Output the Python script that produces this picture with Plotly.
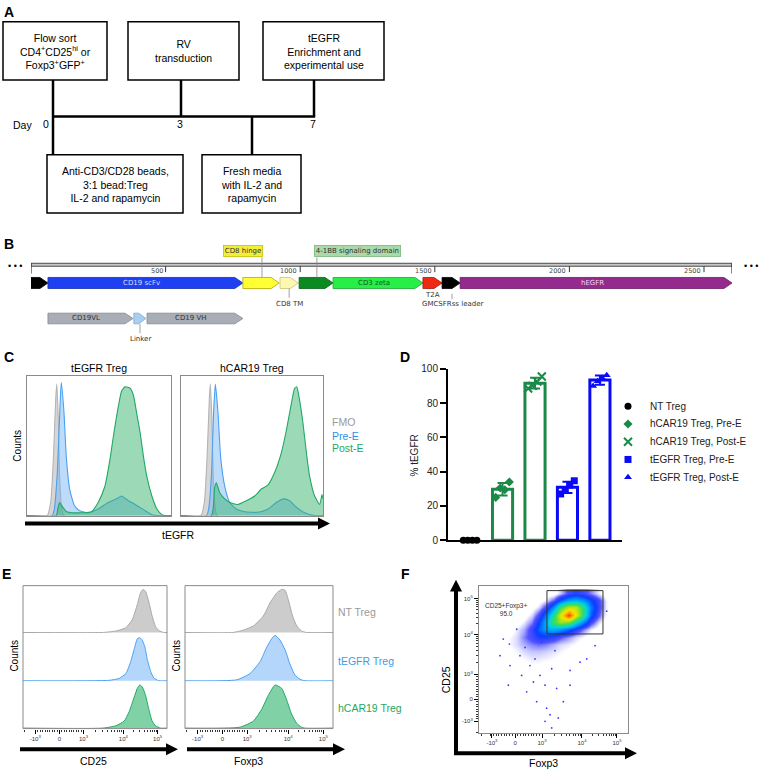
import numpy as np
import plotly.graph_objects as go

W, H = 764, 774
FONT = "Liberation Sans, Arial, sans-serif"
SG_FONT = "DejaVu Sans, Verdana, sans-serif"

# ======================= DATA =======================
# ---- Panel A : workflow ----
a_top_labels = ["Flow sort<br>CD4<sup>+</sup>CD25<sup>hi</sup> or<br>Foxp3<sup>+</sup>GFP<sup>+</sup>",
                "RV<br>transduction",
                "tEGFR<br>Enrichment and<br>experimental use"]
a_bottom_labels = ["Anti-CD3/CD28 beads,<br>3:1 bead:Treg<br>IL-2 and rapamycin",
                   "Fresh media<br>with IL-2 and<br>rapamycin"]
a_day_labels = ["0", "3", "7"]

# ---- Panel B : construct map (bp) ----
b_feat_names = ["CD8 leader", "CD19 scFv", "CD8 hinge", "CD8 TM", "4-1BB signaling domain",
                "CD3 zeta", "T2A", "GMCSFRss leader", "hEGFR"]
b_feat_start = [0, 63, 787, 925, 996, 1122, 1456, 1527, 1594]
b_feat_end = [63, 787, 922, 993, 1122, 1456, 1527, 1594, 2604]
b_sub_names = ["CD19VL", "Linker", "CD19 VH"]
b_sub_start = [63, 382, 431]
b_sub_end = [379, 427, 787]
b_ruler_ticks = [500, 1000, 1500, 2000, 2500]
b_length = 2604

# ---- Panel C : tEGFR histograms (x = % of display axis, y = normalised counts) ----
c_titles = ["tEGFR Treg", "hCAR19 Treg"]
c_series = ["FMO", "Pre-E", "Post-E"]
c_fmo_x = [0, 14, 16.5, 18.5, 20, 20.7, 21.7, 22.6, 23.8, 25.5, 100]
c_fmo_y = [0, 0, 0.1, 0.45, 0.85, 0.94, 0.7, 0.3, 0.08, 0, 0]
c_tegfr_pre_x = [0, 17.5, 19, 21, 22.8, 23.8, 25.6, 27.3, 29.6, 33, 36.6, 42.4, 49.4, 56.4, 62.2,
                 65.7, 70.4, 75.1, 82.1, 86.7, 91.4, 100]
c_tegfr_pre_y = [0, 0, 0.05, 0.3, 0.75, 0.95, 0.75, 0.42, 0.19, 0.07, 0.035, 0.02, 0.047, 0.094,
                 0.12, 0.14, 0.106, 0.08, 0.035, 0.007, 0, 0]
c_tegfr_post_x = [0, 20.3, 21.4, 22.6, 24.2, 27.3, 33, 44.8, 49.4, 54.1, 57.6, 59.9, 62.9, 65.7,
                  68.1, 71.6, 73.9, 76.2, 78.6, 80.9, 83.2, 86.7, 90.2, 93.7, 96, 100]
c_tegfr_post_y = [0, 0, 0.05, 0.094, 0.07, 0.03, 0.02, 0.028, 0.094, 0.21, 0.4, 0.56, 0.75, 0.89,
                  0.92, 0.91, 0.86, 0.73, 0.59, 0.42, 0.28, 0.14, 0.047, 0.007, 0, 0]
c_car_pre_x = [0, 18, 19.5, 21.5, 23, 24.2, 26.1, 27.9, 30.8, 34.3, 39, 44.8, 54.2, 61.3, 67.1,
               72.5, 76.5, 81.2, 87.1, 94.1, 100]
c_car_pre_y = [0, 0, 0.05, 0.3, 0.75, 0.94, 0.73, 0.42, 0.21, 0.094, 0.047, 0.028, 0.024, 0.047,
               0.094, 0.12, 0.106, 0.06, 0.02, 0, 0]
c_car_post_x = [0, 21.4, 23.7, 24.9, 27.2, 30.8, 35.4, 40.1, 46, 51.9, 56.6, 61.3, 66, 70.7,
                74.2, 77.7, 80, 81.5, 83.6, 85.9, 88.3, 90.6, 94.1, 97.7, 99.3, 100]
c_car_post_y = [0, 0, 0.2, 0.235, 0.165, 0.12, 0.09, 0.08, 0.106, 0.14, 0.19, 0.22, 0.31, 0.45,
                0.61, 0.8, 0.91, 0.92, 0.82, 0.66, 0.45, 0.28, 0.14, 0.08, 0.15, 0.12]

# ---- Panel D : % tEGFR ----
d_groups = ["NT Treg", "hCAR19 Treg, Pre-E", "hCAR19 Treg, Post-E",
            "tEGFR Treg, Pre-E", "tEGFR Treg, Post-E"]
d_values = [[0, 0, 0, 0],
            [25, 30.5, 29.5, 34],
            [88.5, 90, 92.5, 95.5],
            [27, 29.5, 32.2, 34.7],
            [90, 92.7, 94.6, 96.2]]
d_yticks = [0, 20, 40, 60, 80, 100]
d_ytitle = "% tEGFR"

# ---- Panel E : CD25 / Foxp3 histograms ----
e_rows = ["NT Treg", "tEGFR Treg", "hCAR19 Treg"]
e_markers = ["CD25", "Foxp3"]
e_cd25_x = [[0, 55, 64.5, 71.4, 76, 79.4, 81.7, 83.3, 85.1, 87.4, 89.7, 92, 94.3, 97.7, 100],
            [0, 60, 66.8, 71.4, 74.8, 77.1, 79.4, 81, 82.8, 84.7, 86.3, 88.6, 90.8, 94.3, 100],
            [0, 55.4, 64.5, 70.3, 73.7, 77.1, 79.4, 81, 82.8, 85.1, 87.4, 89.7, 92, 95.4, 100]]
e_cd25_y = [[0, 0, 0.03, 0.1, 0.28, 0.6, 0.85, 0.92, 0.88, 0.65, 0.35, 0.13, 0.04, 0, 0],
            [0, 0.01, 0.05, 0.15, 0.4, 0.65, 0.88, 0.9, 0.85, 0.7, 0.45, 0.2, 0.06, 0, 0],
            [0, 0, 0.05, 0.15, 0.35, 0.65, 0.85, 0.92, 0.88, 0.7, 0.4, 0.15, 0.05, 0, 0]]
e_foxp3_x = [[0, 32.6, 39.4, 46.2, 52.9, 57.4, 61.9, 65.3, 67.6, 69.8, 72.7, 75.5, 78.8, 82, 100],
             [0, 34.9, 43.9, 50.7, 55.2, 58.6, 60.8, 64.2, 67.6, 70.9, 74.3, 77.7, 81.1, 100],
             [0, 37.2, 46.2, 51.8, 56.3, 60.8, 65.3, 68.7, 72, 75.5, 78.8, 81, 100]]
e_foxp3_y = [[0, 0, 0.05, 0.14, 0.35, 0.63, 0.84, 0.92, 0.9, 0.7, 0.35, 0.14, 0.03, 0, 0],
             [0, 0.02, 0.15, 0.4, 0.7, 0.88, 0.95, 0.85, 0.65, 0.35, 0.12, 0.03, 0, 0],
             [0, 0.02, 0.15, 0.4, 0.7, 0.92, 0.85, 0.6, 0.3, 0.1, 0.02, 0, 0]]
e_tick_pos = [8.5, 25.3, 42, 69.7, 93.5]
tick_text = ["-10<sup>3</sup>", "0", "10<sup>3</sup>", "10<sup>4</sup>", "10<sup>5</sup>"]

# ---- Panel F : CD25 vs Foxp3 density ----
f_tick_x_pos = [8.7, 24.2, 42.3, 69.1, 92.6]
f_tick_y_pos = [7.6, 22.8, 39.8, 66.6, 91.1]
f_grid_x = [15, 20, 25, 30, 35, 40, 45, 50, 55, 60, 65, 70, 75, 80, 85, 90]
f_grid_y = [30, 35, 40, 45, 50, 55, 60, 65, 70, 75, 80, 85, 90, 95]
f_density = [
    [0, 0, 0, 0, 0, 0, 0, 0, 0, 0, 0, 0, 0, 0, 0, 0],
    [0, 0, 0, 0, 0, 0, 0, 0, 0, 0, 0, 0, 0, 0, 0, 0],
    [0, 0, 0, 0, 0.05, 0.05, 0.05, 0.05, 0, 0, 0, 0, 0, 0, 0, 0],
    [0, 0, 0, 0.1, 0.15, 0.15, 0.12, 0.1, 0, 0, 0, 0, 0, 0, 0, 0],
    [0, 0, 0.15, 0.2, 0.3, 0.3, 0.25, 0.2, 0.12, 0, 0, 0, 0, 0, 0, 0],
    [0, 0.1, 0.25, 0.4, 0.5, 0.5, 0.45, 0.35, 0.25, 0.15, 0, 0, 0, 0, 0, 0],
    [0, 0.2, 0.4, 0.6, 0.8, 0.9, 0.8, 0.6, 0.4, 0.3, 0.2, 0, 0, 0, 0, 0],
    [0, 0.2, 0.4, 0.8, 1.2, 1.6, 1.6, 1.4, 1.0, 0.7, 0.4, 0.2, 0, 0, 0, 0],
    [0, 0, 0.3, 0.6, 1.3, 2.2, 3.0, 3.2, 2.8, 2.2, 1.5, 0.8, 0.3, 0, 0, 0],
    [0, 0, 0, 0.3, 0.8, 1.8, 3.2, 5.0, 6.0, 5.5, 4.0, 2.5, 1.2, 0.4, 0, 0],
    [0, 0, 0, 0, 0.4, 1.2, 2.5, 4.5, 7.0, 9.5, 7.0, 4.5, 2.2, 1.0, 0.2, 0],
    [0, 0, 0, 0, 0, 0.4, 1.2, 2.8, 5.0, 6.5, 6.5, 4.5, 2.5, 1.3, 0.3, 0],
    [0, 0, 0, 0, 0, 0, 0.3, 1.0, 2.2, 3.0, 3.2, 2.8, 2.0, 1.2, 0.3, 0],
    [0, 0, 0, 0, 0, 0, 0, 0, 0.5, 1.2, 1.5, 1.2, 0.8, 0.3, 0, 0]]
f_sparse_x = [20.4, 25.3, 27.5, 30.9, 34.2, 37.6, 40.9, 44.3, 48.8, 52.1, 38.7, 47.7, 44.3, 48.8,
              53.2, 19.7, 32.0, 61.1, 67.8, 56.6, 16.3, 14.1, 72.3, 77.9, 85.7, 45.4, 61.1, 36.5,
              28.6, 20.8, 51.0, 42.1]
f_sparse_y = [60.2, 70.3, 52.3, 57.9, 45.6, 50.1, 38.9, 32.2, 43.4, 30.0, 21.0, 12.1, 7.6, 3.1,
              9.9, 32.2, 27.7, 42.3, 47.9, 21.0, 63.6, 52.3, 50.1, 59.1, 82.6, 16.6, 32.2, 34.4,
              38.9, 45.6, 55.7, 61.3]
f_gate = dict(x0=45.6, x1=83.2, y0=67.1, y1=96.6)
f_gate_label = "CD25+Foxp3+<br>95.0"

# ======================= HELPERS =======================
shapes, annos = [], []


def P(x):
    return x / W


def Q(y):
    return 1 - y / H


def text(t, x, y, size=10, color="black", xa="center", ya="middle", angle=0, family=FONT, **kw):
    annos.append(dict(text=t, x=P(x), y=Q(y), xref="paper", yref="paper", xanchor=xa,
                      yanchor=ya, showarrow=False, textangle=angle,
                      font=dict(size=size, color=color, family=family), **kw))


def rect(x0, y0, x1, y1, color="black", width=1.5):
    shapes.append(dict(type="rect", xref="paper", yref="paper", x0=P(x0), x1=P(x1),
                       y0=Q(y1), y1=Q(y0), line=dict(color=color, width=width),
                       fillcolor="rgba(0,0,0,0)"))


def line(x0, y0, x1, y1, color="black", width=2.5):
    shapes.append(dict(type="line", xref="paper", yref="paper", x0=P(x0), x1=P(x1),
                       y0=Q(y0), y1=Q(y1), line=dict(color=color, width=width)))


def poly(pts, color="black"):
    path = "M " + " L ".join(f"{P(a):.5f},{Q(b):.5f}" for a, b in pts) + " Z"
    shapes.append(dict(type="path", xref="paper", yref="paper", path=path,
                       fillcolor=color, line=dict(color=color, width=0)))


def harrow(x0, x1, y, lw=4, hl=12, hw=6):
    line(x0, y, x1 - hl + 1, y, width=lw)
    poly([(x1 - hl, y - hw), (x1, y), (x1 - hl, y + hw)])


def varrow(x, y0, y1, lw=4, hl=12, hw=6):
    line(x, y0, x, y1 + hl - 1, width=lw)
    poly([(x - hw, y1 + hl), (x, y1), (x + hw, y1 + hl)])


def minor_positions(major):
    # major = positions of -1e3, 0, 1e3, 1e4, 1e5 on the display axis
    m = []
    lin = major[2] - major[1]
    for v in range(-9, 10):
        if v != 0:
            m.append(major[1] + v / 10 * lin)
    for lo, hi in [(major[2], major[3]), (major[3], major[4])]:
        for k in range(2, 10):
            m.append(lo + np.log10(k) * (hi - lo))
    dec = major[4] - major[3]
    m.append(major[0] - np.log10(2) * dec)
    return [v for v in m if 0 <= v <= 100]


fig = go.Figure()
layout = dict(width=W, height=H, margin=dict(l=0, r=0, t=0, b=0), paper_bgcolor="white",
              plot_bgcolor="rgba(0,0,0,0)", showlegend=False, font=dict(family=FONT))

# ======================= PANEL LETTERS =======================
for L, x, y in [("A", 2, 7), ("B", 2, 242), ("C", 2, 357), ("D", 398, 357), ("E", 0, 577), ("F", 399, 577)]:
    text(f"<b>{L}</b>", x, y, size=14, xa="left")

# ======================= PANEL A =======================
top_box_x = [(3, 107), (128, 239), (263, 384)]
bot_box_x = [(47, 183), (202, 301)]
for (x0, x1), lab in zip(top_box_x, a_top_labels):
    rect(x0, 17, x1, 76)
    text(lab, (x0 + x1) / 2, 47, size=10.5, align="center")
for (x0, x1), lab in zip(bot_box_x, a_bottom_labels):
    rect(x0, 152, x1, 211)
    text(lab, (x0 + x1) / 2, 182, size=10.5, align="center")
line(52, 113, 315.2, 113)
line(53, 76, 53, 152)
line(181, 76, 181, 113)
line(314, 76, 314, 113)
line(252, 113, 252, 152)
text("Day", 11, 122, size=10.5, xa="left")
for lab, x in zip(a_day_labels, [46, 180, 313]):
    text(lab, x, 121, size=10.5)

# ======================= PANEL B =======================
layout["xaxis"] = dict(domain=[P(31), P(732)], range=[0, b_length], visible=False, anchor="y")
layout["yaxis"] = dict(domain=[Q(350), Q(250)], range=[-3.4, 1.6], visible=False, anchor="x")

feat_fill = ["#000000", "#1f3ff2", "#ffff33", "#fff6b0", "#0b8a22", "#28ee48", "#ee2a14", "#000000", "#952a8e"]
feat_edge = ["#000000", "#1530b0", "#b0a800", "#c8c080", "#066015", "#18a830", "#a01a08", "#000000", "#6a1a64"]
sub_fill = ["#a9adb5", "#a7cff0", "#a9adb5"]
sub_edge = ["#858991", "#80a8d0", "#858991"]
HEAD = 30


def gene_arrow(s, e, yc, h, fill, edge):
    hl = min(HEAD, (e - s) * 0.6)
    xs = [s, e - hl, e, e - hl, s, s]
    ys = [yc - h, yc - h, yc, yc + h, yc + h, yc - h]
    fig.add_trace(go.Scatter(x=xs, y=ys, fill="toself", fillcolor=fill, mode="lines",
                             line=dict(color=edge, width=0.8), xaxis="x", yaxis="y", hoverinfo="skip"))


for s, e, fc, ec in zip(b_feat_start, b_feat_end, feat_fill, feat_edge):
    gene_arrow(s, e, 0, 0.28, fc, ec)
for s, e, fc, ec in zip(b_sub_start, b_sub_end, sub_fill, sub_edge):
    gene_arrow(s, e, -1.8, 0.27, fc, ec)

# ruler
shapes.append(dict(type="rect", xref="x", yref="y", x0=0, x1=b_length, y0=0.85, y1=1.0,
                   line=dict(color="#3a3a3a", width=0.9), fillcolor="#c8c8c8"))
for xv in [0, b_length]:
    shapes.append(dict(type="line", xref="x", yref="y", x0=xv, x1=xv, y0=1.0, y1=0.48,
                       line=dict(color="#333", width=1.2)))
for t in b_ruler_ticks:
    shapes.append(dict(type="line", xref="x", yref="y", x0=t, x1=t, y0=0.85, y1=0.55,
                       line=dict(color="#333", width=1)))
    annos.append(dict(text=str(t), x=t - 4, y=0.6, xref="x", yref="y", xanchor="right",
                      yanchor="middle", showarrow=False, font=dict(size=6.5, color="#444", family=SG_FONT)))


def bann(t, x, y, size=7, color="#333", **kw):
    annos.append(dict(text=t, x=x, y=y, xref="x", yref="y", showarrow=False,
                      font=dict(size=size, color=color, family=SG_FONT), **kw))


def bline(x, y0, y1):
    shapes.append(dict(type="line", xref="x", yref="y", x0=x, x1=x, y0=y0, y1=y1,
                       line=dict(color="#888", width=0.8)))


# labels inside arrows
inside = {1: "#d8dcff", 5: "#0a5a18", 8: "#f0d8ee"}
for i, col in inside.items():
    bann(b_feat_names[i], (b_feat_start[i] + b_feat_end[i] - HEAD) / 2, 0.02, color=col)
for i in [0, 2]:
    bann(b_sub_names[i], (b_sub_start[i] + b_sub_end[i] - HEAD) / 2, -1.8, color="#333")
# labels outside arrows
bann(b_feat_names[0], -8, -0.62)
bann(b_feat_names[2], 789, 1.6, bgcolor="#f2ee3c", bordercolor="#c8c000", borderwidth=0.8, borderpad=1)
bline(858, 1.3, 0.28)
bann(b_feat_names[3], 959, -1.07)
bline(959, -0.28, -0.75)
bann(b_feat_names[4], 1211, 1.6, bgcolor="#aad9aa", bordercolor="#78b878", borderwidth=0.8, borderpad=1)
bline(1062, 1.3, 0.28)
bann(b_feat_names[6], 1493, -0.6)
bann(b_feat_names[7], 1564, -1.07)
bline(1564, -0.55, -0.82)
bann(b_sub_names[1], 405, -2.85)
bline(405, -2.07, -2.55)
text("• • •", 15, 265, size=9)
text("• • •", 751, 265, size=9)

# ======================= PANEL C =======================
c_colors_line = ["#b4b4b4", "#4aa0f0", "#22a865"]
c_colors_fill = ["rgba(200,200,200,0.75)", "rgba(110,175,245,0.45)", "rgba(45,175,105,0.48)"]
c_data = [[(c_fmo_x, c_fmo_y), (c_tegfr_pre_x, c_tegfr_pre_y), (c_tegfr_post_x, c_tegfr_post_y)],
          [(c_fmo_x, c_fmo_y), (c_car_pre_x, c_car_pre_y), (c_car_post_x, c_car_post_y)]]
c_dom = [(27, 171), (181, 323)]
for k in range(2):
    ax = k + 2
    x0, x1 = c_dom[k]
    layout[f"xaxis{ax}"] = dict(domain=[P(x0), P(x1)], range=[0, 100], anchor=f"y{ax}",
                                showline=True, mirror=True, linecolor="#8a8a8a", linewidth=1,
                                showticklabels=False, ticks="", showgrid=False, zeroline=False)
    layout[f"yaxis{ax}"] = dict(domain=[Q(518), Q(376)], range=[0, 1], anchor=f"x{ax}",
                                showline=True, mirror=True, linecolor="#8a8a8a", linewidth=1,
                                showticklabels=False, ticks="", showgrid=False, zeroline=False)
    for (xs, ys), lc, fc in zip(c_data[k], c_colors_line, c_colors_fill):
        fig.add_trace(go.Scatter(x=xs, y=ys, mode="lines", fill="tozeroy", fillcolor=fc,
                                 line=dict(color=lc, width=1.1, shape="spline", smoothing=0.5),
                                 xaxis=f"x{ax}", yaxis=f"y{ax}", hoverinfo="skip"))
    text(c_titles[k], (x0 + x1) / 2, 368, size=10.5)
text("Counts", 18, 447, size=10, angle=-90)
for lab, y, col in zip(c_series, [423, 437, 449], ["#9a9a9a", "#2f8fe8", "#22a865"]):
    text(lab, 330, y, size=10.5, color=col, xa="left")
harrow(25, 330, 526, lw=4, hl=12, hw=6)
text("tEGFR", 178, 538, size=10.5)

# ======================= PANEL D =======================
layout["xaxis4"] = dict(domain=[P(448), P(622)], range=[-0.68, 4.68], anchor="y4",
                        showline=True, linecolor="black", linewidth=2, ticks="",
                        showticklabels=False, showgrid=False, zeroline=False)
layout["yaxis4"] = dict(domain=[Q(543), Q(369)], range=[0, 100], anchor="x4",
                        showline=True, linecolor="black", linewidth=2, ticks="outside",
                        ticklen=6, tickwidth=2, tickcolor="black", tickvals=d_yticks,
                        tickfont=dict(size=10, color="#222"), showgrid=False, zeroline=False)
d_colors = ["#000000", "#1b8a48", "#1b8a48", "#0a0af5", "#0a0af5"]
d_symbols = ["circle", "diamond", "x-thin", "square", "triangle-up"]
d_sizes = [7, 7, 8, 7, 7]
offsets = np.array([-0.21, -0.07, 0.07, 0.21])
for i, vals in enumerate(d_values):
    vals = np.array(vals, dtype=float)
    m, sd = vals.mean(), vals.std(ddof=1)
    if m > 0:
        fig.add_trace(go.Bar(x=[i], y=[m], width=0.62, xaxis="x4", yaxis="y4",
                             marker=dict(color="rgba(255,255,255,0)", line=dict(color=d_colors[i], width=3)),
                             error_y=dict(type="data", array=[sd], color=d_colors[i], thickness=2, width=5),
                             hoverinfo="skip"))
for i, vals in enumerate(d_values):
    mk = dict(symbol=d_symbols[i], size=d_sizes[i], color=d_colors[i])
    if d_symbols[i] == "x-thin":
        mk["line"] = dict(color=d_colors[i], width=2)
    fig.add_trace(go.Scatter(x=i + offsets, y=vals, mode="markers", marker=mk, cliponaxis=False,
                             xaxis="x4", yaxis="y4", hoverinfo="skip"))
text(d_ytitle, 415, 457, size=10, angle=-90, color="#222")

# legend (drawn on a pixel canvas axis)
layout["xaxis12"] = dict(domain=[0, 1], range=[0, W], visible=False, anchor="y12")
layout["yaxis12"] = dict(domain=[0, 1], range=[H, 0], visible=False, anchor="x12")
leg_y = [407, 425, 443, 461, 479]
for i, g in enumerate(d_groups):
    mk = dict(symbol=d_symbols[i], size=d_sizes[i], color=d_colors[i])
    if d_symbols[i] == "x-thin":
        mk["line"] = dict(color=d_colors[i], width=2)
    fig.add_trace(go.Scatter(x=[628], y=[leg_y[i]], mode="markers", marker=mk,
                             xaxis="x12", yaxis="y12", hoverinfo="skip"))
    text(g, 648, leg_y[i], size=10, xa="left", color="#222")

# ======================= PANEL E =======================
e_line = ["#a8a8a8", "#4aa0f0", "#22a865"]
e_fill = ["#cccccc", "#b5d6fb", "#80d2a6"]
e_dom_x = [(23, 167), (185, 333)]
e_rows_y = [(589, 637), (637, 686), (686, 734)]
e_data = [(e_cd25_x, e_cd25_y), (e_foxp3_x, e_foxp3_y)]
e_minor = minor_positions(e_tick_pos)
ax = 5
for p in range(2):
    x0, x1 = e_dom_x[p]
    xs_all, ys_all = e_data[p]
    for r in range(3):
        ya0, ya1 = e_rows_y[r]
        xa_def = dict(domain=[P(x0), P(x1)], range=[0, 100], anchor=f"y{ax}", showgrid=False,
                      zeroline=False, showline=False)
        if r == 2:
            xa_def.update(ticks="outside", ticklen=4, tickwidth=1, tickcolor="black",
                          tickvals=e_tick_pos, ticktext=tick_text,
                          tickfont=dict(size=6, color="#333"),
                          minor=dict(tickmode="array", tickvals=e_minor, ticks="outside",
                                     ticklen=2, tickwidth=0.8, tickcolor="black"))
        else:
            xa_def.update(showticklabels=False, ticks="")
        layout[f"xaxis{ax}"] = xa_def
        layout[f"yaxis{ax}"] = dict(domain=[Q(ya1), Q(ya0)], range=[-0.01, 1.0], anchor=f"x{ax}",
                                    visible=False)
        fig.add_trace(go.Scatter(x=xs_all[r], y=ys_all[r], mode="lines", fill="tozeroy",
                                 fillcolor=e_fill[r],
                                 line=dict(color=e_line[r], width=1, shape="spline", smoothing=0.5),
                                 xaxis=f"x{ax}", yaxis=f"y{ax}", hoverinfo="skip"))
        ax += 1
    rect(x0, 589, x1, 734, color="#8a8a8a", width=1)
    text("Counts", x0 - 8, 660, size=10, angle=-90)
text(e_markers[0], 93, 767, size=10.5)
text(e_markers[1], 248, 767, size=10.5)
for lab, y, col in zip(e_rows, [616, 665, 713], ["#9a9a9a", "#3d9be9", "#22a862"]):
    text(lab, 336, y, size=10.5, color=col, xa="left")
harrow(20, 178, 755, lw=4, hl=12, hw=6)
harrow(187, 345, 755, lw=4, hl=12, hw=6)

# ======================= PANEL F =======================
f_minor_x = minor_positions(f_tick_x_pos)
f_minor_y = minor_positions(f_tick_y_pos)
common_f = dict(range=[0, 100], showline=True, mirror=True, linecolor="#8a8a8a", linewidth=1,
                ticks="outside", ticklen=4, tickwidth=1, tickcolor="black",
                ticktext=tick_text, tickfont=dict(size=6, color="#333"), showgrid=False, zeroline=False)
layout["xaxis11"] = dict(domain=[P(479), P(628)], anchor="y11", tickvals=f_tick_x_pos,
                         minor=dict(tickmode="array", tickvals=f_minor_x, ticks="outside", ticklen=2,
                                    tickwidth=0.8, tickcolor="black"), **common_f)
layout["yaxis11"] = dict(domain=[Q(738), Q(589)], anchor="x11", tickvals=f_tick_y_pos,
                         minor=dict(tickmode="array", tickvals=f_minor_y, ticks="outside", ticklen=2,
                                    tickwidth=0.8, tickcolor="black"), **common_f)
jet = [[0.0, "rgba(255,255,255,0)"], [0.02, "rgba(70,70,255,0)"], [0.045, "rgba(60,60,255,0.25)"],
       [0.1, "rgba(25,25,255,0.75)"], [0.18, "rgb(10,60,255)"], [0.28, "rgb(0,150,255)"],
       [0.38, "rgb(0,215,220)"], [0.5, "rgb(60,220,90)"], [0.62, "rgb(170,230,20)"],
       [0.72, "rgb(250,230,0)"], [0.85, "rgb(255,140,0)"], [1.0, "rgb(230,20,20)"]]
fig.add_trace(go.Heatmap(x=f_grid_x, y=f_grid_y, z=f_density, zmin=0, zmax=10, colorscale=jet,
                         zsmooth="best", showscale=False, xaxis="x11", yaxis="y11", hoverinfo="skip"))
fig.add_trace(go.Scatter(x=f_sparse_x, y=f_sparse_y, mode="markers",
                         marker=dict(size=1.8, color="#3a3aff"), xaxis="x11", yaxis="y11", hoverinfo="skip"))
shapes.append(dict(type="rect", xref="x11", yref="y11", line=dict(color="#333", width=1),
                   fillcolor="rgba(0,0,0,0)", **f_gate))
annos.append(dict(text=f_gate_label, x=18, y=83.5, xref="x11", yref="y11", showarrow=False,
                  align="center", font=dict(size=6.5, color="#333", family=FONT)))
varrow(456, 760, 583, lw=4, hl=12, hw=6)
harrow(454, 637, 759, lw=4, hl=12, hw=6)
text("CD25", 446, 685, size=10.5, angle=-90)
text("Foxp3", 543, 769, size=10.5)

layout["shapes"] = shapes
layout["annotations"] = annos
fig.update_layout(**layout)
fig.write_html("out.html", config={"displayModeBar": False, "staticPlot": True},
               post_script="document.body.style.margin='0';")
